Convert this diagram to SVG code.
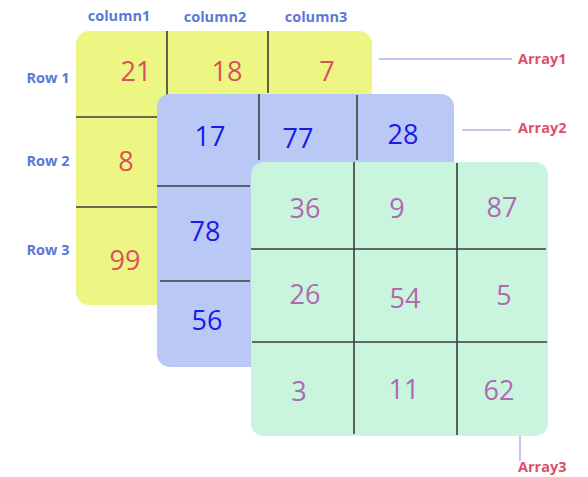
<svg xmlns="http://www.w3.org/2000/svg" width="588" height="477" viewBox="0 0 588 477">
<style>
.grid{stroke:#3a3f3a;stroke-width:1.6;fill:none}
.num{font-family:"Open Sans","Liberation Sans",sans-serif;font-size:27px;text-anchor:middle}
.r{fill:#d9505f}
.b{fill:#1a1ae8}
.p{fill:#b068b0}
.hdr{font-family:"Open Sans","Liberation Sans",sans-serif;font-size:14.5px;font-weight:bold;fill:#5b78d6}
.arr{font-family:"Open Sans","Liberation Sans",sans-serif;font-size:14.5px;font-weight:bold;fill:#df5068}
.lead{stroke:#b6aeea;stroke-width:1.5;fill:none}
</style>
<rect width="588" height="477" fill="#ffffff"/>
<g id="headers">
<text class="hdr" x="119" y="21" text-anchor="middle">column1</text>
<text class="hdr" x="215" y="22" text-anchor="middle">column2</text>
<text class="hdr" x="316" y="22" text-anchor="middle">column3</text>
<text class="hdr" x="48" y="83" text-anchor="middle">Row 1</text>
<text class="hdr" x="48" y="166" text-anchor="middle">Row 2</text>
<text class="hdr" x="48" y="255" text-anchor="middle">Row 3</text>
</g>
<g id="array1">
<rect x="76" y="31" width="296" height="274" rx="13" fill="#edf583"/>
<path class="grid" d="M167 31V95M268 31V93M76 117H158M76 207H158"/>
<text class="num r" x="136" y="81">21</text>
<text class="num r" x="227" y="81">18</text>
<text class="num r" x="327" y="81">7</text>
<text class="num r" x="126" y="171">8</text>
<text class="num r" x="125" y="270">99</text>
</g>
<g id="array2">
<rect x="157" y="94" width="297" height="273" rx="13" fill="#b9c8f5"/>
<path class="grid" d="M259 94V160M357 95V160M157 186H250M160 281H250"/>
<text class="num b" x="210" y="146">17</text>
<text class="num b" x="298" y="148">77</text>
<text class="num b" x="403" y="144">28</text>
<text class="num b" x="205" y="241">78</text>
<text class="num b" x="207" y="330">56</text>
</g>
<g id="array3">
<rect x="251" y="162" width="297" height="274" rx="13" fill="#c9f5df"/>
<path class="grid" d="M354 162V434M457 163V435M251 249H546M252 342H547"/>
<text class="num p" x="305" y="218">36</text>
<text class="num p" x="397" y="218">9</text>
<text class="num p" x="502" y="217">87</text>
<text class="num p" x="305" y="304">26</text>
<text class="num p" x="405" y="308">54</text>
<text class="num p" x="504" y="305">5</text>
<text class="num p" x="299" y="401">3</text>
<text class="num p" x="404" y="399">11</text>
<text class="num p" x="499" y="400">62</text>
</g>
<g id="connectors">
<path class="lead" d="M379 59H512M462 130H511M520 436V461"/>
</g>
<g id="labels">
<text class="arr" x="518" y="64">Array1</text>
<text class="arr" x="518" y="133">Array2</text>
<text class="arr" x="518" y="472">Array3</text>
</g>
</svg>
